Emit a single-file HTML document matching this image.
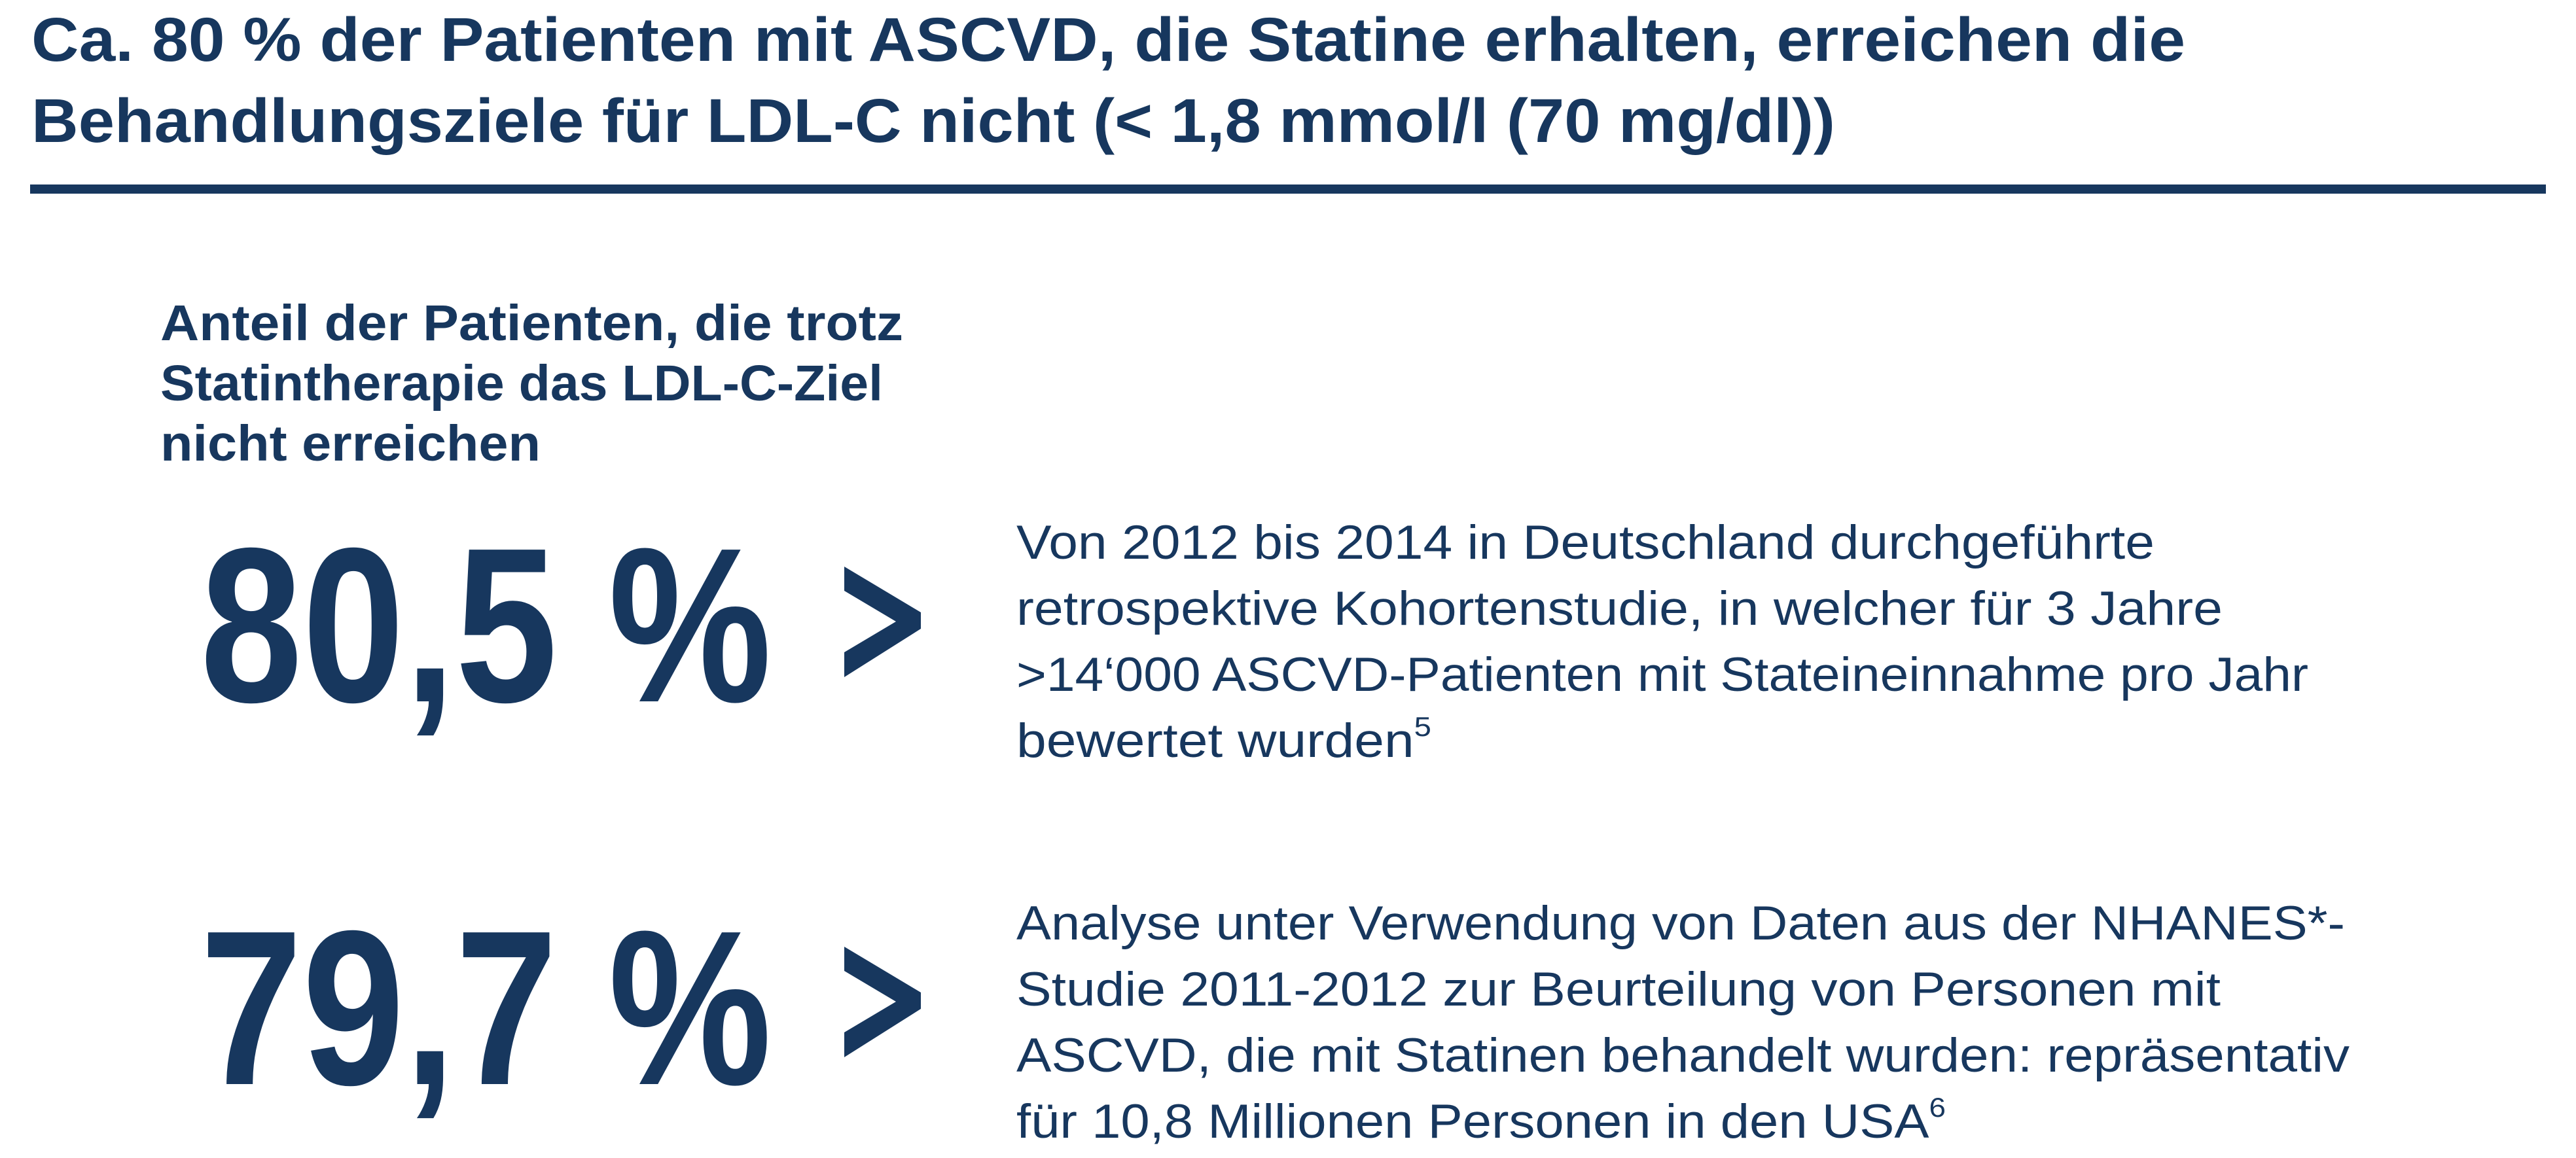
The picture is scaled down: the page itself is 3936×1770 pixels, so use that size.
<!DOCTYPE html>
<html><head><meta charset="utf-8"><style>
html,body{margin:0;padding:0;background:#fff;}
svg{display:block;}
text{font-family:"Liberation Sans",sans-serif;fill:#17375e;}
</style></head><body>
<svg width="3936" height="1770" viewBox="0 0 3936 1770" xmlns="http://www.w3.org/2000/svg">
<g font-weight="bold" font-size="95">
<text x="48" y="93" textLength="3291" lengthAdjust="spacingAndGlyphs">Ca. 80 % der Patienten mit ASCVD, die Statine erhalten, erreichen die</text>
<text x="48" y="217" textLength="2756" lengthAdjust="spacingAndGlyphs">Behandlungsziele für LDL-C nicht (&lt; 1,8 mmol/l (70 mg/dl))</text>
</g>
<rect x="46" y="282" width="3844" height="14" fill="#17375e"/>
<g font-weight="bold" font-size="77">
<text x="245" y="520" textLength="1135" lengthAdjust="spacingAndGlyphs">Anteil der Patienten, die trotz</text>
<text x="245" y="612" textLength="1104" lengthAdjust="spacingAndGlyphs">Statintherapie das LDL-C-Ziel</text>
<text x="245" y="704" textLength="581" lengthAdjust="spacingAndGlyphs">nicht erreichen</text>
</g>
<g>
<text x="306" y="1072" font-size="337" font-weight="bold" textLength="873" lengthAdjust="spacingAndGlyphs">80,5 %</text>
<polygon points="1290,866 1407,936 1407,961 1290,1035 1290,997 1369,950 1290,903" fill="#17375e"/>
<g font-size="73">
<text x="1553" y="854" textLength="1739" lengthAdjust="spacingAndGlyphs">Von 2012 bis 2014 in Deutschland durchgeführte</text>
<text x="1553" y="955" textLength="1843" lengthAdjust="spacingAndGlyphs">retrospektive Kohortenstudie, in welcher für 3 Jahre</text>
<text x="1553" y="1056" textLength="1974" lengthAdjust="spacingAndGlyphs">&gt;14‘000 ASCVD-Patienten mit Stateineinnahme pro Jahr</text>
<text x="1553" y="1157" textLength="634" lengthAdjust="spacingAndGlyphs">bewertet wurden<tspan font-size="42" dy="-32">5</tspan></text>
</g>
</g>
<g>
<text x="306" y="1657" font-size="337" font-weight="bold" textLength="873" lengthAdjust="spacingAndGlyphs">79,7 %</text>
<polygon points="1290,1447 1407,1517 1407,1542 1290,1616 1290,1578 1369,1531 1290,1484" fill="#17375e"/>
<g font-size="73">
<text x="1553" y="1436" textLength="2030" lengthAdjust="spacingAndGlyphs">Analyse unter Verwendung von Daten aus der NHANES*-</text>
<text x="1553" y="1537" textLength="1840" lengthAdjust="spacingAndGlyphs">Studie 2011-2012 zur Beurteilung von Personen mit</text>
<text x="1553" y="1638" textLength="2037" lengthAdjust="spacingAndGlyphs">ASCVD, die mit Statinen behandelt wurden: repräsentativ</text>
<text x="1553" y="1739" textLength="1420" lengthAdjust="spacingAndGlyphs">für 10,8 Millionen Personen in den USA<tspan font-size="42" dy="-32">6</tspan></text>
</g>
</g>
</svg>
</body></html>
